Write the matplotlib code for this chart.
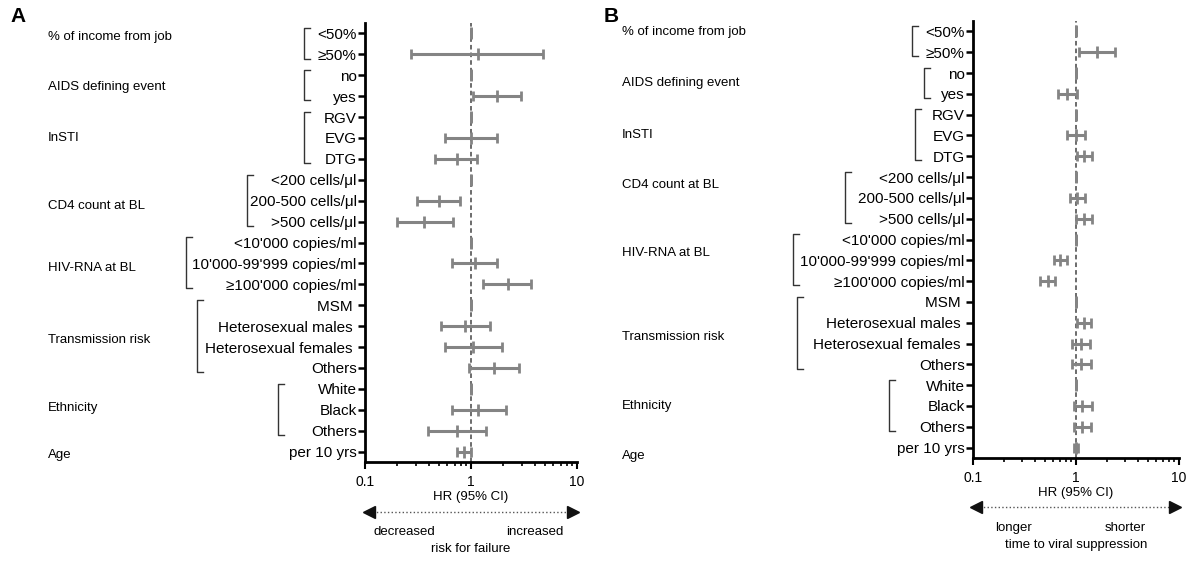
import matplotlib.pyplot as plt
import matplotlib.transforms as mtransforms
import numpy as np

plt.rcParams['font.family'] = ['Liberation Sans', 'DejaVu Sans']

# row labels (top to bottom)
rows = ["<50%", "≥50%", "no", "yes", "RGV", "EVG", "DTG",
        "<200 cells/μl", "200-500 cells/μl", ">500 cells/μl",
        "<10'000 copies/ml", "10'000-99'999 copies/ml", "≥100'000 copies/ml",
        "MSM ", "Heterosexual males ", "Heterosexual females ", "Others",
        "White", "Black", "Others", "per 10 yrs"]

groups = ["% of income from job", "AIDS defining event", "InSTI", "CD4 count at BL",
          "HIV-RNA at BL", "Transmission risk", "Ethnicity", "Age"]
group_sizes = [2, 2, 3, 3, 3, 4, 3, 1]

# panel A: risk for failure
hr_a = [1, 1.16, 1, 1.77, 1, 1.0, 0.73, 1, 0.50, 0.36, 1, 1.09, 2.21,
        1, 0.88, 1.05, 1.65, 1, 1.16, 0.73, 0.86]
lo_a = [1, 0.27, 1, 1.05, 1, 0.57, 0.46, 1, 0.31, 0.20, 1, 0.66, 1.31,
        1, 0.52, 0.57, 0.95, 1, 0.66, 0.39, 0.73]
hi_a = [1, 4.83, 1, 2.97, 1, 1.77, 1.13, 1, 0.79, 0.67, 1, 1.77, 3.66,
        1, 1.52, 1.95, 2.85, 1, 2.12, 1.40, 1.0]

# panel B: time to viral suppression
hr_b = [1, 1.61, 1, 0.82, 1, 1.0, 1.20, 1, 1.02, 1.20, 1, 0.70, 0.53,
        1, 1.20, 1.12, 1.12, 1, 1.15, 1.15, 1.0]
lo_b = [1, 1.06, 1, 0.67, 1, 0.82, 1.02, 1, 0.88, 1.0, 1, 0.61, 0.45,
        1, 1.02, 0.92, 0.92, 1, 0.95, 0.95, 0.95]
hi_b = [1, 2.41, 1, 1.02, 1, 1.23, 1.42, 1, 1.23, 1.44, 1, 0.82, 0.63,
        1, 1.40, 1.37, 1.40, 1, 1.44, 1.40, 1.04]

W, H = 1189, 561
fig = plt.figure(figsize=(W / 100, H / 100), dpi=100)
axA = fig.add_axes([365 / W, 1 - 462 / H, 212 / W, 439 / H])
axB = fig.add_axes([973 / W, 1 - 458 / H, 206 / W, 437 / H])


def draw_panel(ax, hr, lo, hi, bracket_x, label_rows, label_x, left_text, right_text, bottom_text):
    y = np.arange(len(rows))
    hr = np.array(hr)
    xerr = [hr - np.array(lo), np.array(hi) - hr]
    ax.errorbar(hr, y, xerr=xerr, fmt='|', color='#848484', ms=8, mew=2,
                elinewidth=2.2, capsize=3.5, capthick=2, zorder=3)
    ax.axvline(1, color='#444444', lw=1.1, ls=(0, (3, 2)), zorder=2)

    ax.set_xscale('log')
    ax.set_xlim(0.1, 10)
    ax.set_ylim(len(rows) - 0.5, -0.5)
    ax.set_yticks(y)
    ax.set_yticklabels(rows, fontsize=11)
    ax.set_xticks([0.1, 1, 10])
    ax.set_xticklabels(['0.1', '1', '10'], fontsize=10)
    ax.tick_params(axis='y', length=5, width=1.8, pad=1)
    ax.tick_params(axis='x', which='major', length=5, width=1.5, pad=4)
    ax.tick_params(axis='x', which='minor', length=3, width=1.2)
    for s in ['top', 'right']:
        ax.spines[s].set_visible(False)
    for s in ['left', 'bottom']:
        ax.spines[s].set_linewidth(2)

    # brackets and group names
    br = mtransforms.blended_transform_factory(ax.transAxes, ax.transData)
    gl = mtransforms.blended_transform_factory(fig.transFigure, ax.transData)
    start = 0
    for name, n, bx, ly in zip(groups, group_sizes, bracket_x, label_rows):
        y0, y1 = start - 0.25, start + n - 1 + 0.2
        if n > 1:
            ax.plot([bx + 0.03, bx, bx, bx + 0.03], [y0, y0, y1, y1], color='#333333',
                    lw=1, transform=br, clip_on=False)
        ax.text(label_x, ly, name, fontsize=9.5, va='center', ha='left', transform=gl)
        start += n

    # bottom annotations
    bt = mtransforms.blended_transform_factory(ax.transData, ax.transAxes)
    ax.text(1, -0.08, 'HR (95% CI)', fontsize=9.5, ha='center', va='center', transform=bt)
    ax.plot([0.108, 9.2], [-0.113, -0.113], color='#555555', lw=1, ls=':',
            transform=bt, clip_on=False)
    ax.plot([0.108], [-0.113], marker='<', ms=8, color='#111111', transform=bt, clip_on=False)
    ax.plot([9.2], [-0.113], marker='>', ms=8, color='#111111', transform=bt, clip_on=False)
    ax.text(left_text[1], -0.16, left_text[0], fontsize=9.5, ha='left', va='center', transform=bt)
    ax.text(right_text[1], -0.16, right_text[0], fontsize=9.5, ha='right', va='center', transform=bt)
    ax.text(1, -0.198, bottom_text, fontsize=9.5, ha='center', va='center', transform=bt)


draw_panel(axA, hr_a, lo_a, hi_a,
           [-0.288, -0.288, -0.288, -0.557, -0.844, -0.792, -0.410, 0],
           [0.15, 2.55, 5.0, 8.25, 11.2, 14.65, 17.9, 20.15],
           48 / W, ('decreased', 0.119), ('increased', 7.5), 'risk for failure')
draw_panel(axB, hr_b, lo_b, hi_b,
           [-0.296, -0.238, -0.282, -0.621, -0.873, -0.854, -0.408, 0],
           [0.05, 2.5, 5.0, 7.4, 10.65, 14.7, 18.0, 20.4],
           622 / W, ('longer', 0.164), ('shorter', 4.8), 'time to viral suppression')

fig.text(10 / W, 1 - 16 / H, 'A', fontsize=15, weight='bold', va='center')
fig.text(604 / W, 1 - 16 / H, 'B', fontsize=15, weight='bold', va='center')

fig.savefig('out.png', dpi=100)
